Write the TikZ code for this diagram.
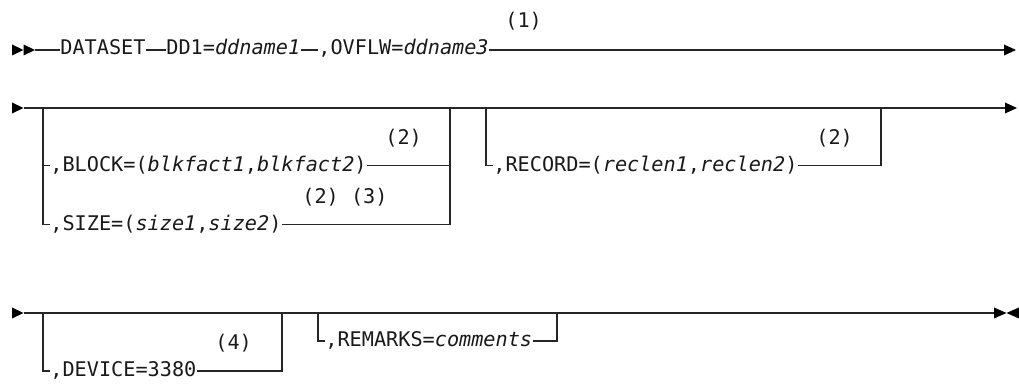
\documentclass[tikz,border=0pt]{standalone}
\usepackage{fontspec}
\setmonofont{DejaVu Sans Mono}[ItalicFont={DejaVu Sans Mono Oblique}]
\begin{document}
\begin{tikzpicture}[x=0.5pt,y=-0.5pt,
  rail/.style={line width=0.65pt, draw=black!85},
  kw/.style={font=\fontsize{10.1pt}{12pt}\ttfamily, inner ysep=0pt, inner xsep=0pt, anchor=base west, text=black!90},
  tri/.style={fill=black}]
\useasboundingbox (0,0) rectangle (1019,384);

% ---------- Row 1 ----------
\fill[tri] (12,44.5) -- (23.5,50) -- (12,55.5) -- cycle;
\fill[tri] (23.5,44.5) -- (35,50) -- (23.5,55.5) -- cycle;
\coordinate (r1s) at (35,50);
\coordinate (r1e) at (1004,50);
\node[kw] (dataset) at (60,55) {DATASET};
\node[kw] (dd1) at (166,55) {DD1=\textit{ddname1}};
\node[kw] (ovflw) at (318,55) {,OVFLW=\textit{ddname3}};
\node[kw] (n1) at (505,28) {(1)};
\draw[rail] (r1s) -- (dataset.west |- r1s);
\draw[rail] (dataset.east |- r1s) -- (dd1.west |- r1s);
\draw[rail] (dd1.east |- r1s) -- (ovflw.west |- r1s);
\draw[rail] (ovflw.east |- r1s) -- (r1e);
\fill[tri] (1004,44.5) -- (1016,50) -- (1004,55.5) -- cycle;

% ---------- Row 2 ----------
\fill[tri] (12,102.5) -- (23.5,108) -- (12,113.5) -- cycle;
\coordinate (r2s) at (23.5,108);
\coordinate (r2e) at (1005,108);
\coordinate (ga) at (43,108);
\coordinate (gb) at (450,108);
\coordinate (gc) at (486,108);
\coordinate (gd) at (881,108);
\node[kw] (block) at (50,172) {,BLOCK=(\textit{blkfact1},\textit{blkfact2})};
\node[kw] (n2a) at (385,145) {(2)};
\node[kw] (size) at (50,231) {,SIZE=(\textit{size1},\textit{size2})};
\node[kw] (n23) at (302,204) {(2) (3)};
\node[kw] (record) at (493,172) {,RECORD=(\textit{reclen1},\textit{reclen2})};
\node[kw] (n2b) at (816,145) {(2)};
\draw[rail] (r2s) -- (r2e);
\draw[rail] (ga) -- (ga |- size.west) -- (size.west);
\draw[rail] (ga |- block.west) -- (block.west);
\draw[rail] (block.east) -- (gb |- block.east);
\draw[rail] (size.east) -- (gb |- size.east) -- (gb);
\draw[rail] (gc) -- (gc |- record.west) -- (record.west);
\draw[rail] (record.east) -- (gd |- record.east) -- (gd);
\fill[tri] (1005,102.5) -- (1017,108) -- (1005,113.5) -- cycle;

% ---------- Row 3 ----------
\fill[tri] (12,307.5) -- (23.5,313) -- (12,318.5) -- cycle;
\coordinate (r3s) at (23.5,313);
\coordinate (r3e) at (994,313);
\coordinate (ha) at (43,313);
\coordinate (hb) at (282,313);
\coordinate (hc) at (318,313);
\coordinate (hd) at (557,313);
\node[kw] (device) at (50,377) {,DEVICE=3380};
\node[kw] (n4) at (215,350) {(4)};
\node[kw] (remarks) at (325,347) {,REMARKS=\textit{comments}};
\draw[rail] (r3s) -- (r3e);
\draw[rail] (ha) -- (ha |- device.west) -- (device.west);
\draw[rail] (device.east) -- (hb |- device.east) -- (hb);
\draw[rail] (hc) -- (hc |- remarks.west) -- (remarks.west);
\draw[rail] (remarks.east) -- (hd |- remarks.east) -- (hd);
\fill[tri] (994,307.5) -- (1006.5,313) -- (994,318.5) -- cycle;
\fill[tri] (1019,307.5) -- (1006.5,313) -- (1019,318.5) -- cycle;
\end{tikzpicture}
\end{document}
